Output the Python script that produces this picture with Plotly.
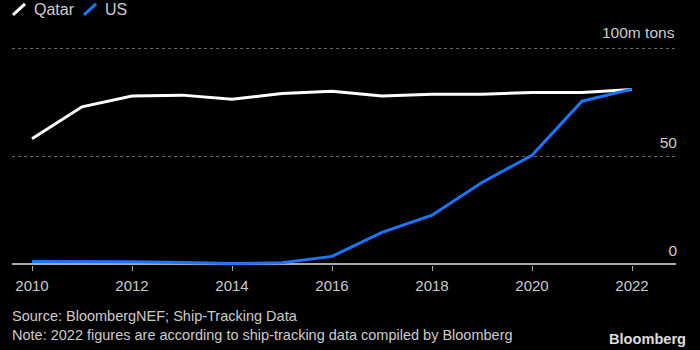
import plotly.graph_objects as go

years = [2010, 2011, 2012, 2013, 2014, 2015, 2016, 2017, 2018, 2019, 2020, 2021, 2022]
qatar = [58.0, 72.8, 77.8, 78.2, 76.3, 79.0, 80.0, 77.8, 78.6, 78.6, 79.4, 79.4, 80.8]
us = [1.1, 1.1, 1.0, 0.7, 0.2, 0.5, 3.5, 14.6, 22.6, 37.7, 50.3, 75.4, 81.0]
y_tickvals = [0, 50, 100]
y_ticktext = ["0", "50", ""]
y_top_label = "100m tons"
x_tickvals = [2010, 2012, 2014, 2016, 2018, 2020, 2022]

FONT = "Liberation Sans, Arial, sans-serif"
GREY = "#cccccc"

fig = go.Figure()
fig.add_trace(go.Scatter(x=years, y=qatar, mode="lines", name="Qatar",
                         line=dict(color="#ffffff", width=3), showlegend=False))
fig.add_trace(go.Scatter(x=years, y=us, mode="lines", name="US",
                         line=dict(color="#1a75ff", width=3), showlegend=False))

fig.update_layout(
    width=700, height=350,
    margin=dict(l=12, r=24, t=47, b=85),
    paper_bgcolor="#000000", plot_bgcolor="#000000",
    font=dict(family=FONT, color=GREY, size=15),
    xaxis=dict(range=[2009.6, 2022.88], tickvals=x_tickvals,
               showgrid=False, zeroline=False, showline=False,
               ticks="outside", ticklen=5, tickwidth=1, tickcolor="#aaaaaa",
               ticklabelstandoff=2,
               tickfont=dict(family=FONT, size=15, color=GREY)),
    yaxis=dict(range=[-0.5, 100.5], tickvals=y_tickvals, ticktext=y_ticktext,
               side="right", ticklabelposition="inside top", ticklabelstandoff=-4,
               ticklabelshift=-3,
               showgrid=True, gridcolor="#666666", griddash="dot", gridwidth=1,
               zeroline=True, zerolinecolor="#aaaaaa", zerolinewidth=2,
               showline=False, ticks="",
               tickfont=dict(family=FONT, size=15.5, color=GREY)),
)

fig.add_annotation(text=y_top_label, xref="paper", yref="y", x=(677 - 12) / 664, y=y_tickvals[-1],
                   xanchor="right", yanchor="middle", yshift=16, showarrow=False,
                   font=dict(family=FONT, size=15.5, color=GREY))

def px_to_paper(px, py):
    return (px - 12) / 664, (265 - py) / 217

for (x0, x1, color, label, tx) in [(13, 25, "#ffffff", "Qatar", 32), (84, 96, "#1a75ff", "US", 103)]:
    a = px_to_paper(x0, 16)
    b = px_to_paper(x1, 5)
    fig.add_shape(type="line", xref="paper", yref="paper", x0=a[0], y0=a[1], x1=b[0], y1=b[1],
                  line=dict(color=color, width=3))
    tp = px_to_paper(tx, 11)
    fig.add_annotation(text=label, xref="paper", yref="paper", x=tp[0], y=tp[1],
                       xanchor="left", yanchor="middle", showarrow=False,
                       font=dict(family=FONT, size=16, color=GREY))

sp = px_to_paper(10, 325.5)
fig.add_annotation(text="Source: BloombergNEF; Ship-Tracking Data<br>"
                        "Note: 2022 figures are according to ship-tracking data compiled by Bloomberg",
                   xref="paper", yref="paper", x=sp[0], y=sp[1], xanchor="left", yanchor="middle",
                   align="left", showarrow=False,
                   font=dict(family=FONT, size=14.5, color=GREY))
bp = px_to_paper(688, 339)
fig.add_annotation(text="<b>Bloomberg</b>", xref="paper", yref="paper", x=bp[0], y=bp[1],
                   xanchor="right", yanchor="middle", showarrow=False,
                   font=dict(family=FONT, size=14.6, color="#dddddd"))

fig.write_html("out.html")
